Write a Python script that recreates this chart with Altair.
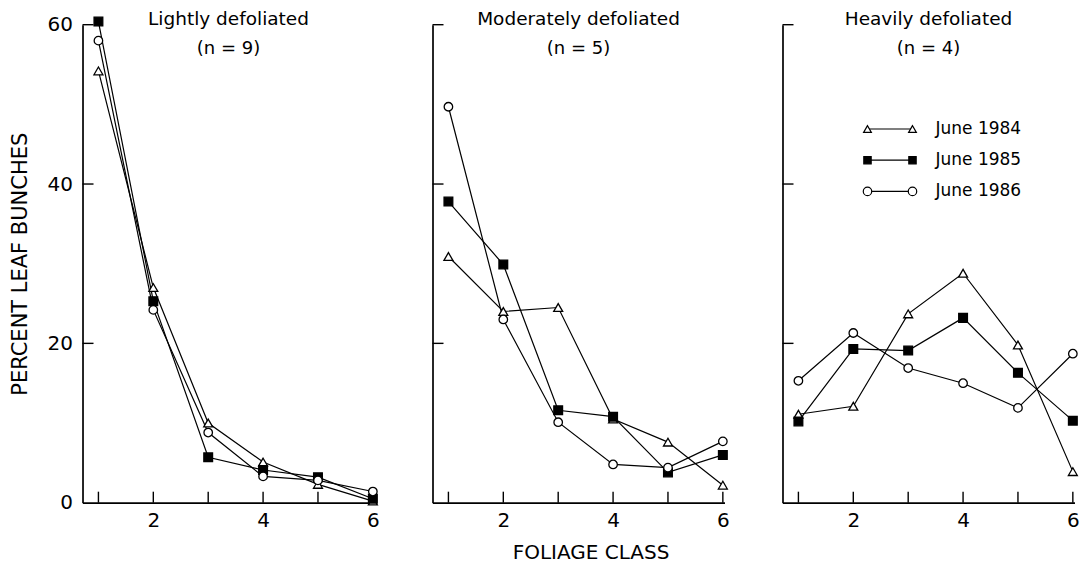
import altair as alt
import pandas as pd

# ---- data ----
panel_names = ["Lightly defoliated", "Moderately defoliated", "Heavily defoliated"]
n_trees = [9, 5, 4]
years = ["June 1984", "June 1985", "June 1986"]
foliage_class = [1, 2, 3, 4, 5, 6]

light_1984 = [54.2, 27.0, 10.0, 5.1, 2.3, 0.2]
light_1985 = [60.4, 25.3, 5.7, 4.1, 3.2, 0.5]
light_1986 = [58.0, 24.2, 8.8, 3.3, 2.8, 1.4]

moderate_1984 = [30.9, 24.0, 24.5, 10.5, 7.6, 2.2]
moderate_1985 = [37.8, 29.9, 11.6, 10.8, 3.8, 6.0]
moderate_1986 = [49.7, 23.0, 10.1, 4.8, 4.4, 7.7]

heavy_1984 = [11.1, 12.1, 23.7, 28.8, 19.8, 3.9]
heavy_1985 = [10.2, 19.3, 19.1, 23.2, 16.3, 10.3]
heavy_1986 = [15.3, 21.3, 16.9, 15.0, 11.9, 18.7]

x_label_values = [2, 4, 6]
y_tick_values = [0, 20, 40, 60]
y_inner_ticks = [20, 40, 60]

series = {
    panel_names[0]: [light_1984, light_1985, light_1986],
    panel_names[1]: [moderate_1984, moderate_1985, moderate_1986],
    panel_names[2]: [heavy_1984, heavy_1985, heavy_1986],
}

rows = []
for p in panel_names:
    for yr, vals in zip(years, series[p]):
        for c, v in zip(foliage_class, vals):
            rows.append({"panel": p, "year": yr, "cls": c, "pct": v})
df = pd.DataFrame(rows)

# ---- styling ----
FONT = "DejaVu Sans"
W, H = 292, 478
XDOM = [0.71, 6.03]
shapes = ["triangle-up", "square", "circle"]
fills = ["white", "black", "white"]
sizes = [80, 72, 95]


def make_panel(i):
    name = panel_names[i]
    d = df[df["panel"] == name]

    x_axis_kw = dict(values=x_label_values, ticks=False, grid=False, domainColor="black",
                     domainWidth=1.7, labelFontSize=20, labelPadding=8, labelColor="black",
                     labelFont=FONT)
    if i == 1:
        x_axis_kw.update(titleFontSize=20, titleFont=FONT, titleFontWeight="normal",
                         titleX=158, titleY=56, titleBaseline="alphabetic", titleColor="black")
    y_axis_kw = dict(values=y_tick_values, ticks=False, grid=False, domainColor="black",
                     domainWidth=1.7, labels=(i == 0), labelFontSize=20, labelPadding=10,
                     labelColor="black", labelFont=FONT)
    if i == 0:
        y_axis_kw.update(titleFontSize=21, titleFont=FONT, titleFontWeight="normal",
                         titleX=-61.7, titleY=239, titleBaseline="middle", titleAlign="center",
                         titleColor="black")

    x_enc = alt.X("cls:Q", scale=alt.Scale(domain=XDOM, nice=False, zero=False),
                  axis=alt.Axis(**x_axis_kw),
                  title="FOLIAGE CLASS" if i == 1 else None)
    y_enc = alt.Y("pct:Q", scale=alt.Scale(domain=[0, 60], nice=False),
                  axis=alt.Axis(**y_axis_kw),
                  title="PERCENT LEAF BUNCHES" if i == 0 else None)

    lines = alt.Chart(d).mark_line(color="black", strokeWidth=1.2).encode(
        x=x_enc, y=y_enc, detail="year:N")
    points = alt.Chart(d).mark_point(filled=True, stroke="black", strokeWidth=1.3, opacity=1).encode(
        x=x_enc, y=y_enc,
        shape=alt.Shape("year:N", scale=alt.Scale(domain=years, range=shapes), legend=None),
        fill=alt.Fill("year:N", scale=alt.Scale(domain=years, range=fills), legend=None),
        size=alt.Size("year:N", scale=alt.Scale(domain=years, range=sizes), legend=None),
    )
    xticks = alt.Chart(pd.DataFrame({"cls": foliage_class})).mark_rule(
        color="black", strokeWidth=1.4).encode(x=x_enc, y=alt.value(H), y2=alt.value(H - 11))
    yticks = alt.Chart(pd.DataFrame({"pct": y_inner_ticks})).mark_rule(
        color="black", strokeWidth=1.4).encode(y=y_enc, x=alt.value(0), x2=alt.value(11))

    t1 = alt.Chart(pd.DataFrame({"t": [name]})).mark_text(
        font=FONT, fontSize=18.5, align="center", baseline="alphabetic", color="black").encode(
        x=alt.value(W / 2), y=alt.value(0.5), text="t:N")
    t2 = alt.Chart(pd.DataFrame({"t": [f"(n = {n_trees[i]})"]})).mark_text(
        font=FONT, fontSize=18, align="center", baseline="alphabetic", color="black").encode(
        x=alt.value(W / 2), y=alt.value(29.5), text="t:N")

    layers = [lines, xticks, yticks, points, t1, t2]

    if i == 2:
        for k, yr in enumerate(years):
            ly = 104.3 + 31.2 * k
            ld = pd.DataFrame({"t": [yr]})
            layers.append(alt.Chart(ld).mark_rule(color="black", strokeWidth=1.2).encode(
                x=alt.value(85), x2=alt.value(130), y=alt.value(ly)))
            for lx in (85, 130):
                layers.append(alt.Chart(ld).mark_point(
                    shape=shapes[k], filled=True, fill=fills[k], stroke="black",
                    strokeWidth=1.2, size=sizes[k] * 0.75, opacity=1).encode(
                    x=alt.value(lx), y=alt.value(ly)))
            layers.append(alt.Chart(ld).mark_text(
                font=FONT, fontSize=17, align="left", baseline="middle", color="black").encode(
                x=alt.value(153), y=alt.value(ly), text="t:N"))

    return alt.layer(*layers).properties(width=W, height=H)


chart = alt.hconcat(*[make_panel(i) for i in range(3)], spacing=58, bounds="flush").configure_view(
    strokeWidth=0
).properties(
    padding={"left": 9.5, "top": 9.7, "right": 5, "bottom": 4},
    background="white",
)

chart.save("out.html", embed_options={"renderer": "svg", "actions": False})
